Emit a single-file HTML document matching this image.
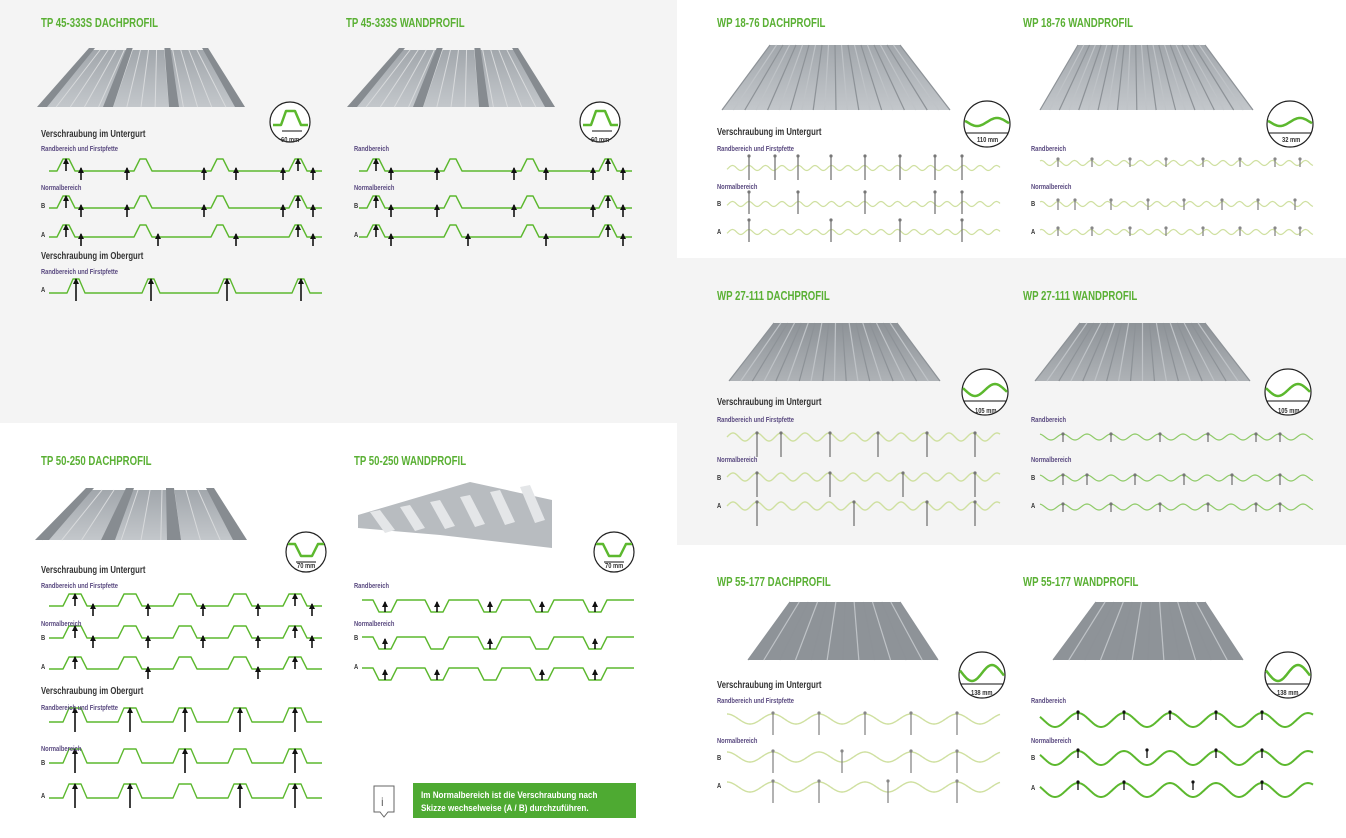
<!DOCTYPE html>
<html><head><meta charset="utf-8"><style>
html,body{margin:0;padding:0;background:#fff}
svg{display:block}
.t{font-family:"Liberation Sans",sans-serif;font-weight:bold;fill:#5ab034;font-size:12.5px}
.h{font-family:"Liberation Sans",sans-serif;font-weight:bold;fill:#333;font-size:10px}
.s{font-family:"Liberation Sans",sans-serif;font-weight:bold;fill:#5a4a80;font-size:7.5px}
.m{font-family:"Liberation Sans",sans-serif;font-weight:bold;fill:#333;font-size:7.5px}
</style></head><body>
<svg id="sv" width="1346" height="838" viewBox="0 0 1346 838" xmlns="http://www.w3.org/2000/svg">
<defs>
<linearGradient id="g1" x1="0" y1="0" x2="0" y2="1"><stop offset="0" stop-color="#a2a7ac"/><stop offset="1" stop-color="#c3c7cb"/></linearGradient>
<linearGradient id="g2" x1="0" y1="0" x2="0" y2="1"><stop offset="0" stop-color="#8e9398"/><stop offset="1" stop-color="#aeb2b6"/></linearGradient>
</defs>
<rect x="0" y="0" width="677" height="423" fill="#f4f4f4"/>
<rect x="677" y="258" width="669" height="287" fill="#f4f4f4"/>
<g id="shapes"></g>
<text class="t" x="41" y="27">TP 45-333S DACHPROFIL</text>
<text class="t" x="346" y="27">TP 45-333S WANDPROFIL</text>
<text class="t" x="717" y="27">WP 18-76 DACHPROFIL</text>
<text class="t" x="1023" y="27">WP 18-76 WANDPROFIL</text>
<text class="t" x="717" y="300">WP 27-111 DACHPROFIL</text>
<text class="t" x="1023" y="300">WP 27-111 WANDPROFIL</text>
<text class="t" x="717" y="586">WP 55-177 DACHPROFIL</text>
<text class="t" x="1023" y="586">WP 55-177 WANDPROFIL</text>
<text class="t" x="41" y="465">TP 50-250 DACHPROFIL</text>
<text class="t" x="354" y="465">TP 50-250 WANDPROFIL</text>
<text class="h" x="41" y="137">Verschraubung im Untergurt</text>
<text class="s" x="41" y="151">Randbereich und Firstpfette</text>
<text class="s" x="41" y="190">Normalbereich</text>
<text class="m" x="41" y="208">B</text>
<text class="m" x="41" y="237">A</text>
<text class="h" x="41" y="259">Verschraubung im Obergurt</text>
<text class="s" x="41" y="274">Randbereich und Firstpfette</text>
<text class="m" x="41" y="292">A</text>
<text class="s" x="354" y="151">Randbereich</text>
<text class="s" x="354" y="190">Normalbereich</text>
<text class="m" x="354" y="208">B</text>
<text class="m" x="354" y="237">A</text>
<text class="h" x="717" y="135">Verschraubung im Untergurt</text>
<text class="s" x="717" y="151">Randbereich und Firstpfette</text>
<text class="s" x="717" y="189">Normalbereich</text>
<text class="m" x="717" y="206">B</text>
<text class="m" x="717" y="234">A</text>
<text class="s" x="1031" y="151">Randbereich</text>
<text class="s" x="1031" y="189">Normalbereich</text>
<text class="m" x="1031" y="206">B</text>
<text class="m" x="1031" y="234">A</text>
<text class="h" x="717" y="405">Verschraubung im Untergurt</text>
<text class="s" x="717" y="422">Randbereich und Firstpfette</text>
<text class="s" x="717" y="462">Normalbereich</text>
<text class="m" x="717" y="480">B</text>
<text class="m" x="717" y="508">A</text>
<text class="s" x="1031" y="422">Randbereich</text>
<text class="s" x="1031" y="462">Normalbereich</text>
<text class="m" x="1031" y="480">B</text>
<text class="m" x="1031" y="508">A</text>
<text class="h" x="717" y="688">Verschraubung im Untergurt</text>
<text class="s" x="717" y="703">Randbereich und Firstpfette</text>
<text class="s" x="717" y="743">Normalbereich</text>
<text class="m" x="717" y="760">B</text>
<text class="m" x="717" y="788">A</text>
<text class="s" x="1031" y="703">Randbereich</text>
<text class="s" x="1031" y="743">Normalbereich</text>
<text class="m" x="1031" y="760">B</text>
<text class="m" x="1031" y="790">A</text>
<text class="h" x="41" y="573">Verschraubung im Untergurt</text>
<text class="s" x="41" y="588">Randbereich und Firstpfette</text>
<text class="s" x="41" y="626">Normalbereich</text>
<text class="m" x="41" y="640">B</text>
<text class="m" x="41" y="669">A</text>
<text class="h" x="41" y="694">Verschraubung im Obergurt</text>
<text class="s" x="41" y="710">Randbereich und Firstpfette</text>
<text class="s" x="41" y="751">Normalbereich</text>
<text class="m" x="41" y="765">B</text>
<text class="m" x="41" y="798">A</text>
<text class="s" x="354" y="588">Randbereich</text>
<text class="s" x="354" y="626">Normalbereich</text>
<text class="m" x="354" y="640">B</text>
<text class="m" x="354" y="669">A</text>
<rect x="413" y="783" width="223" height="35" fill="#4eaa32"/>
<text class="w" x="421" y="798" font-family="Liberation Sans,sans-serif" font-weight="bold" font-size="9" fill="#fff">Im Normalbereich ist die Verschraubung nach</text>
<text class="w" x="421" y="811" font-family="Liberation Sans,sans-serif" font-weight="bold" font-size="9" fill="#fff">Skizze wechselweise (A / B) durchzuführen.</text>
<path d="M374 786 h20 v26 h-6 l-4 5 l-4 -5 h-6 z" fill="none" stroke="#666" stroke-width="1"/>
<text x="381" y="806" font-family="Liberation Sans,sans-serif" font-size="12" fill="#666">i</text>
<text class="m" x="281" y="142">60 mm</text>
<text class="m" x="591" y="142">60 mm</text>
<text class="m" x="297" y="568">70 mm</text>
<text class="m" x="605" y="568">70 mm</text>
<text class="m" x="977" y="142">110 mm</text>
<text class="m" x="1282" y="142">32 mm</text>
<text class="m" x="975" y="413">105 mm</text>
<text class="m" x="1278" y="413">105 mm</text>
<text class="m" x="971" y="695">138 mm</text>
<text class="m" x="1277" y="695">138 mm</text>
</svg>
<script>
var G=document.getElementById('shapes'),out='';
function P(d,st,w,f){out+='<path d="'+d+'" fill="'+(f||'none')+'" stroke="'+st+'" stroke-width="'+(w||1.3)+'" stroke-linejoin="round"/>';}
var GR='#5cb82e',PALE='#cfe0a0',GY='#888';
function trap(x0,x1,y,peaks,bt,tp,h){
  var d='M'+x0+' '+y;
  peaks.forEach(function(p){d+=' L'+(p-bt)+' '+y+' L'+(p-tp)+' '+(y-h)+' L'+(p+tp)+' '+(y-h)+' L'+(p+bt)+' '+y;});
  d+=' L'+x1+' '+y;P(d,GR,1.4);
}
function arrow(x,tip,len){out+='<line x1="'+x+'" y1="'+tip+'" x2="'+x+'" y2="'+(tip+len)+'" stroke="#111" stroke-width="1.6"/><path d="M'+(x-3)+' '+(tip+5)+' L'+x+' '+(tip-1)+' L'+(x+3)+' '+(tip+5)+'z" fill="#111"/>';}
function screw(x,top,len,c){out+='<line x1="'+x+'" y1="'+top+'" x2="'+x+'" y2="'+(top+len)+'" stroke="'+(c||GY)+'" stroke-width="1.3"/><circle cx="'+x+'" cy="'+top+'" r="1.6" fill="'+(c||GY)+'"/>';}
function wave(x0,x1,y,per,amp,col,w,ph){var d='';for(var x=x0;x<=x1;x+=1){var yy=y-amp*Math.cos((x-ph)/per*2*Math.PI);d+=(x==x0?'M':'L')+x+' '+yy.toFixed(1)+' ';}P(d,col,w||1.2);}
function circ(cx,cy,r){out+='<circle cx="'+cx+'" cy="'+cy+'" r="'+r+'" fill="#fff" stroke="#222" stroke-width="1.2"/>';}
function sheet(tl,tr,bl,br,yt,yb,n,fill,wavy){
  out+='<polygon points="'+tl+','+yt+' '+tr+','+yt+' '+br+','+yb+' '+bl+','+yb+'" fill="'+fill+'"/>';
  for(var i=0;i<=n;i++){var a=tl+(tr-tl)*i/n,b=bl+(br-bl)*i/n;
    out+='<line x1="'+a+'" y1="'+yt+'" x2="'+b+'" y2="'+yb+'" stroke="'+(wavy?'#8d9297':'#d8dadc')+'" stroke-width="'+(wavy?1.2:1)+'"/>';
    if(wavy){var a2=a+(tr-tl)/n/2,b2=b+(br-bl)/n/2;if(i<n)out+='<line x1="'+a2+'" y1="'+yt+'" x2="'+b2+'" y2="'+yb+'" stroke="#bfc3c7" stroke-width="1.2"/>';}
  }
}
[[0],[310]].forEach(function(o){var dx=o[0];
 sheet(92+dx,205+dx,42+dx,240+dx,50,107,14,'url(#g1)');
 [0,1,2,3].forEach(function(k){var a=92+dx+k*37.7,b=42+dx+k*66;out+='<polygon points="'+(a-3)+',48 '+(a+3)+',48 '+(b+5)+',107 '+(b-5)+',107" fill="#868b90"/>';});
});
sheet(90,210,42,240,490,540,10,'url(#g1)');
[0,1,2,3].forEach(function(k){var a=90+k*40,b=42+k*66;out+='<polygon points="'+(a-4)+',488 '+(a+4)+',488 '+(b+7)+',540 '+(b-7)+',540" fill="#878c91"/>';});
out+='<polygon points="358,515 470,482 552,500 552,548 440,535 358,528" fill="#b8bcc0"/>';
for(var i=0;i<6;i++){var x=370+i*30;out+='<polygon points="'+x+','+(512-i*5)+' '+(x+10)+','+(510-i*5)+' '+(x+25)+','+(530-i*2)+' '+(x+15)+','+(533-i*2)+'" fill="#e4e6e8"/>';}
sheet(770,900,722,950,45,110,10,'url(#g1)',1);
sheet(1078,1205,1040,1253,45,110,11,'url(#g1)',1);
sheet(774,897,729,940,323,381,9,'url(#g2)',1);
sheet(1080,1205,1035,1250,323,381,9,'url(#g2)',1);
sheet(790,900,748,938,602,660,6,'#8e9398',1);
sheet(1096,1205,1053,1243,602,660,6,'#8e9398',1);
var pk=[66,143,220,298];
function tp45row(dx,y,up,dn){trap(49+dx,322+dx,y,pk.map(function(p){return p+dx}),9,3,12);up.forEach(function(x){arrow(x+dx,y-12,12)});dn.forEach(function(x){arrow(x+dx,y-3,12)});}
tp45row(0,171,[66,298],[81,127,204,236,283,313]);
tp45row(0,208,[66,298],[81,127,204,283,313]);
tp45row(0,237,[66,298],[81,158,236,313]);
tp45row(310,171,[66,298],[81,127,204,236,283,313]);
tp45row(310,208,[66,298],[81,127,204,283,313]);
tp45row(310,237,[66,298],[81,158,236,313]);
trap(49,322,293,[76,151,227,301],9,3,14);[76,151,227,301].forEach(function(x){arrow(x,279,22)});
var pk5=[75,130,185,240,295];
function tp50(y,up,dn){trap(49,322,y,pk5,12,6,12);up.forEach(function(x){arrow(x,y-12,12)});dn.forEach(function(x){arrow(x,y-2,12)});}
tp50(606,[75,295],[93,148,203,258,312]);
tp50(638,[75,295],[93,148,203,258,312]);
tp50(669,[75,295],[148,258]);
[[722],[763],[798]].forEach(function(r,i){var y=r[0];trap(49,322,y,pk5,12,6,14);pk5.forEach(function(x,j){if(i==1&&j%2==1)return;if(i==2&&j==2)return;arrow(x,y-14,24)});});
var pkw=[385,437,490,542,595];
[600,637,668].forEach(function(y,i){trap(362,634,y,pkw,12,6,-12);pkw.forEach(function(x,j){if(i==1&&(j==1||j==3))return;if(i==2&&(j==2))return;arrow(x,y+2,10)});});
function wrow(x0,x1,y,per,amp,col,w,screws,top,len,c,ph){wave(x0,x1,y,per,amp,col,w,ph||x0);screws.forEach(function(x){screw(x,y-(top||8),len||20,c)});}
wrow(727,1000,168,16.5,2.5,PALE,1.2,[749,775,798,831,865,900,935,962],12,24,'#777',749);
wrow(727,1000,204,16.5,2.5,PALE,1.2,[749,798,865,935,962],12,22,'#777',749);
wrow(727,1000,232,16.5,2.5,PALE,1.2,[749,831,900,962],12,22,'#777',749);
wrow(1040,1313,163,16.5,2.5,PALE,1.2,[1058,1092,1130,1166,1203,1240,1275,1300],4,8,'#888',1058);
wrow(1040,1313,204,16.5,2.5,PALE,1.2,[1058,1075,1111,1148,1184,1222,1258,1295],4,10,'#888',1058);
wrow(1040,1313,232,16.5,2.5,PALE,1.2,[1058,1092,1130,1166,1203,1240,1275,1300],4,8,'#888',1058);
wrow(727,1000,437,24,4,PALE,1.4,[757,781,830,878,927,975],4,24,'#777',757);
wrow(727,1000,477,24,4,PALE,1.4,[757,830,903,975],4,24,'#777',757);
wrow(727,1000,506,24,4,PALE,1.4,[757,854,927,975],4,24,'#777',757);
wrow(1040,1313,437,24,3,'#8fcb68',1.2,[1063,1111,1160,1208,1256,1280],3,8,'#777',1063);
wrow(1040,1313,478,24,3,'#8fcb68',1.2,[1063,1087,1135,1184,1232,1280],3,10,'#777',1063);
wrow(1040,1313,507,24,3,'#8fcb68',1.2,[1063,1111,1160,1208,1256,1280],3,8,'#777',1063);
wrow(727,1000,719,46,5,PALE,1.4,[773,819,865,911,957],6,22,'#888',773);
wrow(727,1000,757,46,5,PALE,1.4,[773,842,911,957],6,22,'#888',773);
wrow(727,1000,787,46,5,PALE,1.4,[773,819,888,957],6,22,'#888',773);
wrow(1040,1313,720,46,7,GR,2,[1078,1124,1170,1216,1262],0,8,'#111',1078);
wrow(1040,1313,758,46,7,GR,2,[1078,1147,1216,1262],0,8,'#111',1078);
wrow(1040,1313,790,46,7,GR,2,[1078,1124,1193,1262],0,8,'#111',1078);
function cTrap(cx,cy){circ(cx,cy,20);P('M'+(cx-17)+' '+(cy+3)+' L'+(cx-9)+' '+(cy+3)+' L'+(cx-4)+' '+(cy-11)+' L'+(cx+5)+' '+(cy-11)+' L'+(cx+11)+' '+(cy+3)+' L'+(cx+18)+' '+(cy+3),GR,2.5);out+='<line x1="'+(cx-8)+'" y1="'+(cy+9)+'" x2="'+(cx+12)+'" y2="'+(cy+9)+'" stroke="#111" stroke-width="1"/>';}
cTrap(290,122);cTrap(600,122);
function cTrap2(cx,cy){circ(cx,cy,20);P('M'+(cx-18)+' '+(cy-8)+' L'+(cx-11)+' '+(cy-8)+' L'+(cx-5)+' '+(cy+4)+' L'+(cx+6)+' '+(cy+4)+' L'+(cx+12)+' '+(cy-8)+' L'+(cx+18)+' '+(cy-8),GR,2.5);out+='<line x1="'+(cx-10)+'" y1="'+(cy+10)+'" x2="'+(cx+10)+'" y2="'+(cy+10)+'" stroke="#111" stroke-width="1"/>';}
cTrap2(306,552);cTrap2(614,552);
function cWave(cx,cy,amp){circ(cx,cy,23);var d='';for(var x=-22;x<=22;x++){d+=(x==-22?'M':'L')+(cx+x)+' '+(cy-2-amp*Math.sin(x/44*2*Math.PI*1.1)).toFixed(1)+' ';}P(d,GR,2.5);out+='<line x1="'+(cx-21)+'" y1="'+(cy+9)+'" x2="'+(cx+21)+'" y2="'+(cy+9)+'" stroke="#111" stroke-width="1"/>';}
cWave(987,124,4);cWave(1290,124,4);cWave(985,392,6);cWave(1288,392,6);cWave(982,675,8);cWave(1288,675,8);
G.innerHTML=out;
var ts=document.querySelectorAll('text.t,text.h,text.s,text.m,text.w');
for(var k=0;k<ts.length;k++){var e=ts[k];var f=e.classList.contains('w')?0.9:0.77;try{var L=e.getComputedTextLength();e.setAttribute('textLength',(L*f).toFixed(1));e.setAttribute('lengthAdjust','spacingAndGlyphs');}catch(err){}}
</script>
</body></html>
